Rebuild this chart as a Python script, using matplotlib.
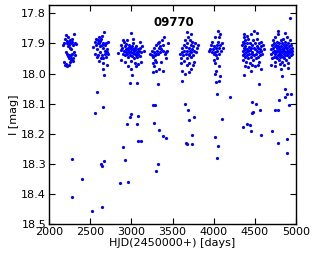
import matplotlib
matplotlib.use("Agg")
import matplotlib.pyplot as plt

star_id = "09770"

s1_hjd = [2175,2182,2200,2210,2215,2222,2228,2235,2240,2245,2252,2258,2262,2270,2275,2285,2292,2300,2310,2325,
          2212,2220,2230,2238,2246,2255,2262,2270,2280,2290,2305,2320,2185,2195,2205,2220,2240,2250,2268,2290]
s1_mag = [17.905,17.898,17.885,17.872,17.892,17.900,17.910,17.880,17.895,17.905,17.915,17.890,17.900,17.920,17.885,17.895,17.905,17.868,17.900,17.902,
          17.930,17.935,17.942,17.948,17.938,17.945,17.952,17.940,17.935,17.948,17.930,17.940,17.962,17.970,17.968,17.975,17.972,17.960,17.955,17.958]

s2_hjd = [2540,2555,2565,2575,2585,2590,2600,2605,2612,2620,2625,2630,2640,2645,2652,2660,2668,2675,2680,2690,2700,2712,
          2560,2580,2595,2615,2630,2645,2660,2675,2690,2705,2720,2610,2650,2700,2656]
s2_mag = [17.912,17.895,17.885,17.905,17.920,17.898,17.890,17.880,17.900,17.910,17.892,17.885,17.905,17.875,17.915,17.898,17.862,17.905,17.925,17.900,17.918,17.895,
          17.935,17.945,17.940,17.930,17.948,17.938,17.950,17.935,17.945,17.930,17.935,17.958,17.965,17.970,17.985]

s3_hjd = [2840,2870,2880,2890,2895,2905,2912,2918,2925,2930,2935,2940,2945,2950,2955,2960,2965,2970,2975,2980,2985,2990,2995,3000,
          3005,3010,3015,3020,3025,3030,3035,3040,3045,3050,3055,3060,3065,3070,3075,3080,3090,3100,3110,3120,3135,3150,
          2880,2920,2960,3000,3040,3080,3120,2990,3060,2900,3020,3100]
s3_mag = [17.932,17.905,17.922,17.915,17.935,17.895,17.925,17.910,17.940,17.918,17.902,17.928,17.890,17.935,17.915,17.945,17.922,17.905,17.930,17.912,17.938,17.920,17.865,17.928,
          17.910,17.942,17.918,17.932,17.900,17.925,17.948,17.915,17.935,17.922,17.940,17.910,17.928,17.945,17.918,17.935,17.925,17.942,17.915,17.930,17.908,17.925,
          17.955,17.960,17.975,17.958,17.965,17.968,17.962,17.985,17.975,17.890,17.885,17.895]

s4_hjd = [3230,3245,3255,3265,3270,3280,3285,3290,3295,3305,3310,3318,3325,3330,3340,3345,3350,3360,3370,3380,3390,3400,3410,3420,3435,3445,
          3260,3280,3300,3330,3360,3390,3420,3300,3264]
s4_mag = [17.935,17.940,17.925,17.945,17.930,17.915,17.940,17.955,17.935,17.905,17.925,17.900,17.935,17.915,17.895,17.930,17.910,17.920,17.890,17.925,17.905,17.880,17.935,17.930,17.925,17.898,
          17.965,17.975,17.960,17.985,17.962,17.992,17.948,17.990,17.995]

s5_hjd = [3590,3600,3610,3620,3630,3635,3645,3650,3660,3665,3670,3675,3680,3690,3695,3700,3705,3710,3715,3720,3725,3730,3735,3740,3745,3750,3760,3770,3780,3795,3810,
          3600,3640,3680,3700,3720,3750,3680,3720,3620,3650,3700,3760]
s5_mag = [17.935,17.948,17.928,17.915,17.940,17.905,17.925,17.890,17.935,17.912,17.950,17.900,17.925,17.880,17.940,17.915,17.935,17.890,17.925,17.945,17.905,17.930,17.918,17.895,17.938,17.910,17.925,17.900,17.930,17.915,17.905,
          17.965,17.958,17.972,17.965,17.985,17.970,17.862,17.870,17.990,18.000,17.995,17.960]

s6_hjd = [3940,3955,3965,3975,3985,3990,4000,4005,4010,4018,4025,4030,4040,4045,4050,4060,4070,4080,4090,4100,4110,
          4000,4020,4040,4060,4030,4010,4050,4080,4060]
s6_mag = [17.925,17.920,17.905,17.930,17.895,17.920,17.935,17.910,17.928,17.880,17.915,17.940,17.905,17.925,17.895,17.915,17.880,17.905,17.925,17.900,17.915,
          17.955,17.965,17.950,17.975,17.990,18.000,17.860,17.870,17.935]

s7_hjd = [4345,4350,4352,4355,4358,4362,4365,4368,4372,4375,4378,4382,4385,4390,4395,4398,4402,4405,4410,4415,4418,4422,4425,4430,4435,
          4440,4445,4448,4452,4456,4460,4465,4470,4475,4480,4485,4490,4495,4500,4505,4510,4515,4520,4525,4530,4535,4540,4545,4550,4555,
          4560,4565,4570,4575,4580,4590,4600,4610,4380,4420,4460,4500,4540,4370,4530,4450,4580]
s7_mag = [17.905,17.925,17.940,17.895,17.955,17.915,17.880,17.935,17.900,17.920,17.945,17.890,17.910,17.930,17.960,17.875,17.918,17.940,17.900,17.925,17.950,17.885,17.912,17.935,17.965,
          17.898,17.922,17.945,17.870,17.915,17.935,17.905,17.928,17.955,17.890,17.915,17.940,17.860,17.920,17.900,17.935,17.950,17.910,17.925,17.885,17.945,17.915,17.930,17.900,17.960,
          17.920,17.940,17.895,17.925,17.910,17.935,17.905,17.920,17.975,17.978,17.972,17.975,17.970,17.870,17.865,17.990,17.985]

s8_hjd = [4690,4700,4705,4710,4715,4720,4725,4728,4732,4735,4740,4742,4745,4748,4752,4755,4758,4762,4765,4768,4772,4775,4778,4782,4785,
          4788,4792,4795,4798,4802,4805,4808,4812,4815,4818,4822,4825,4828,4832,4835,4838,4842,4845,4848,4852,4855,4858,4862,4865,4868,
          4872,4875,4878,4882,4885,4888,4892,4895,4898,4902,4905,4910,4915,4920,4925,4930,4935,4940,4945,4950,4955,
          4700,4750,4800,4850,4900,4780,4860,4928,4820,4900]
s8_mag = [17.935,17.920,17.950,17.905,17.930,17.890,17.915,17.945,17.925,17.900,17.935,17.960,17.910,17.880,17.925,17.945,17.905,17.930,17.915,17.950,17.895,17.925,17.940,17.910,17.870,
          17.930,17.955,17.915,17.900,17.935,17.920,17.945,17.890,17.925,17.910,17.940,17.960,17.900,17.930,17.915,17.945,17.885,17.920,17.935,17.905,17.950,17.925,17.910,17.940,17.895,
          17.930,17.915,17.955,17.905,17.925,17.940,17.880,17.915,17.935,17.900,17.925,17.945,17.910,17.930,17.890,17.920,17.940,17.905,17.925,17.935,17.915,
          17.970,17.975,17.968,17.972,17.965,17.860,17.865,17.817,17.985,17.980]

out_hjd = [2668,3008,2988,3073,3320,2583,2652,2559,3264,3292,2996,2988,3085,2948,3069,3272,3333,3389,3425,3081,3118,2903,2280,2668,2636,2644,2923,3328,3304,2397,2866,2956,2283,2526,2648,
           3620,4025,4069,4073,4365,4827,4548,4868,4892,4941,4871,4794,4039,4195,3649,3693,3701,3765,4463,4511,4479,4467,4567,4750,4786,4916,4106,4357,4402,4446,4454,4576,4706,3738,4017,3668,3676,3733,4050,4045,4786,4892,4884]
out_mag = [18.005,18.005,18.032,18.032,18.035,18.061,18.112,18.132,18.105,18.105,18.135,18.145,18.140,18.167,18.168,18.163,18.189,18.207,18.215,18.225,18.225,18.245,18.283,18.291,18.300,18.307,18.286,18.300,18.325,18.350,18.365,18.361,18.409,18.456,18.444,
           18.025,18.028,18.024,18.008,18.005,18.008,18.036,18.051,18.067,18.067,18.079,18.088,18.069,18.077,18.102,18.122,18.153,18.145,18.096,18.100,18.129,18.131,18.122,18.120,18.120,18.105,18.151,18.178,18.169,18.172,18.191,18.203,18.190,18.205,18.211,18.230,18.233,18.235,18.240,18.281,18.230,18.217,18.264]

x_ticks = [2000, 2500, 3000, 3500, 4000, 4500, 5000]
y_ticks = [17.8, 17.9, 18.0, 18.1, 18.2, 18.3, 18.4, 18.5]

fig = plt.figure(figsize=(3.16, 2.59), dpi=100)
ax = fig.add_axes([0.155, 0.135, 0.782, 0.846])

hjd = s1_hjd + s2_hjd + s3_hjd + s4_hjd + s5_hjd + s6_hjd + s7_hjd + s8_hjd + out_hjd
mag = s1_mag + s2_mag + s3_mag + s4_mag + s5_mag + s6_mag + s7_mag + s8_mag + out_mag
ax.plot(hjd, mag, linestyle='none', marker='o', markersize=2.3, color='#0000ff', markeredgewidth=0)

ax.set_xlim(2000, 5000)
ax.set_ylim(18.5, 17.772)
ax.set_xticks(x_ticks)
ax.set_yticks(y_ticks)
ax.set_yticklabels([f"{v:.1f}" for v in y_ticks])
ax.tick_params(direction='in', top=True, right=True, length=4, width=0.8, labelsize=8, pad=2)
for s in ax.spines.values():
    s.set_linewidth(1.0)
ax.set_xlabel("HJD(2450000+) [days]", fontsize=8, labelpad=1)
ax.set_ylabel("I [mag]", fontsize=8, labelpad=2)
ax.text(3520, 17.829, star_id, fontsize=8.5, fontweight='bold', ha='center', va='center')

fig.savefig("out.png", dpi=100)
